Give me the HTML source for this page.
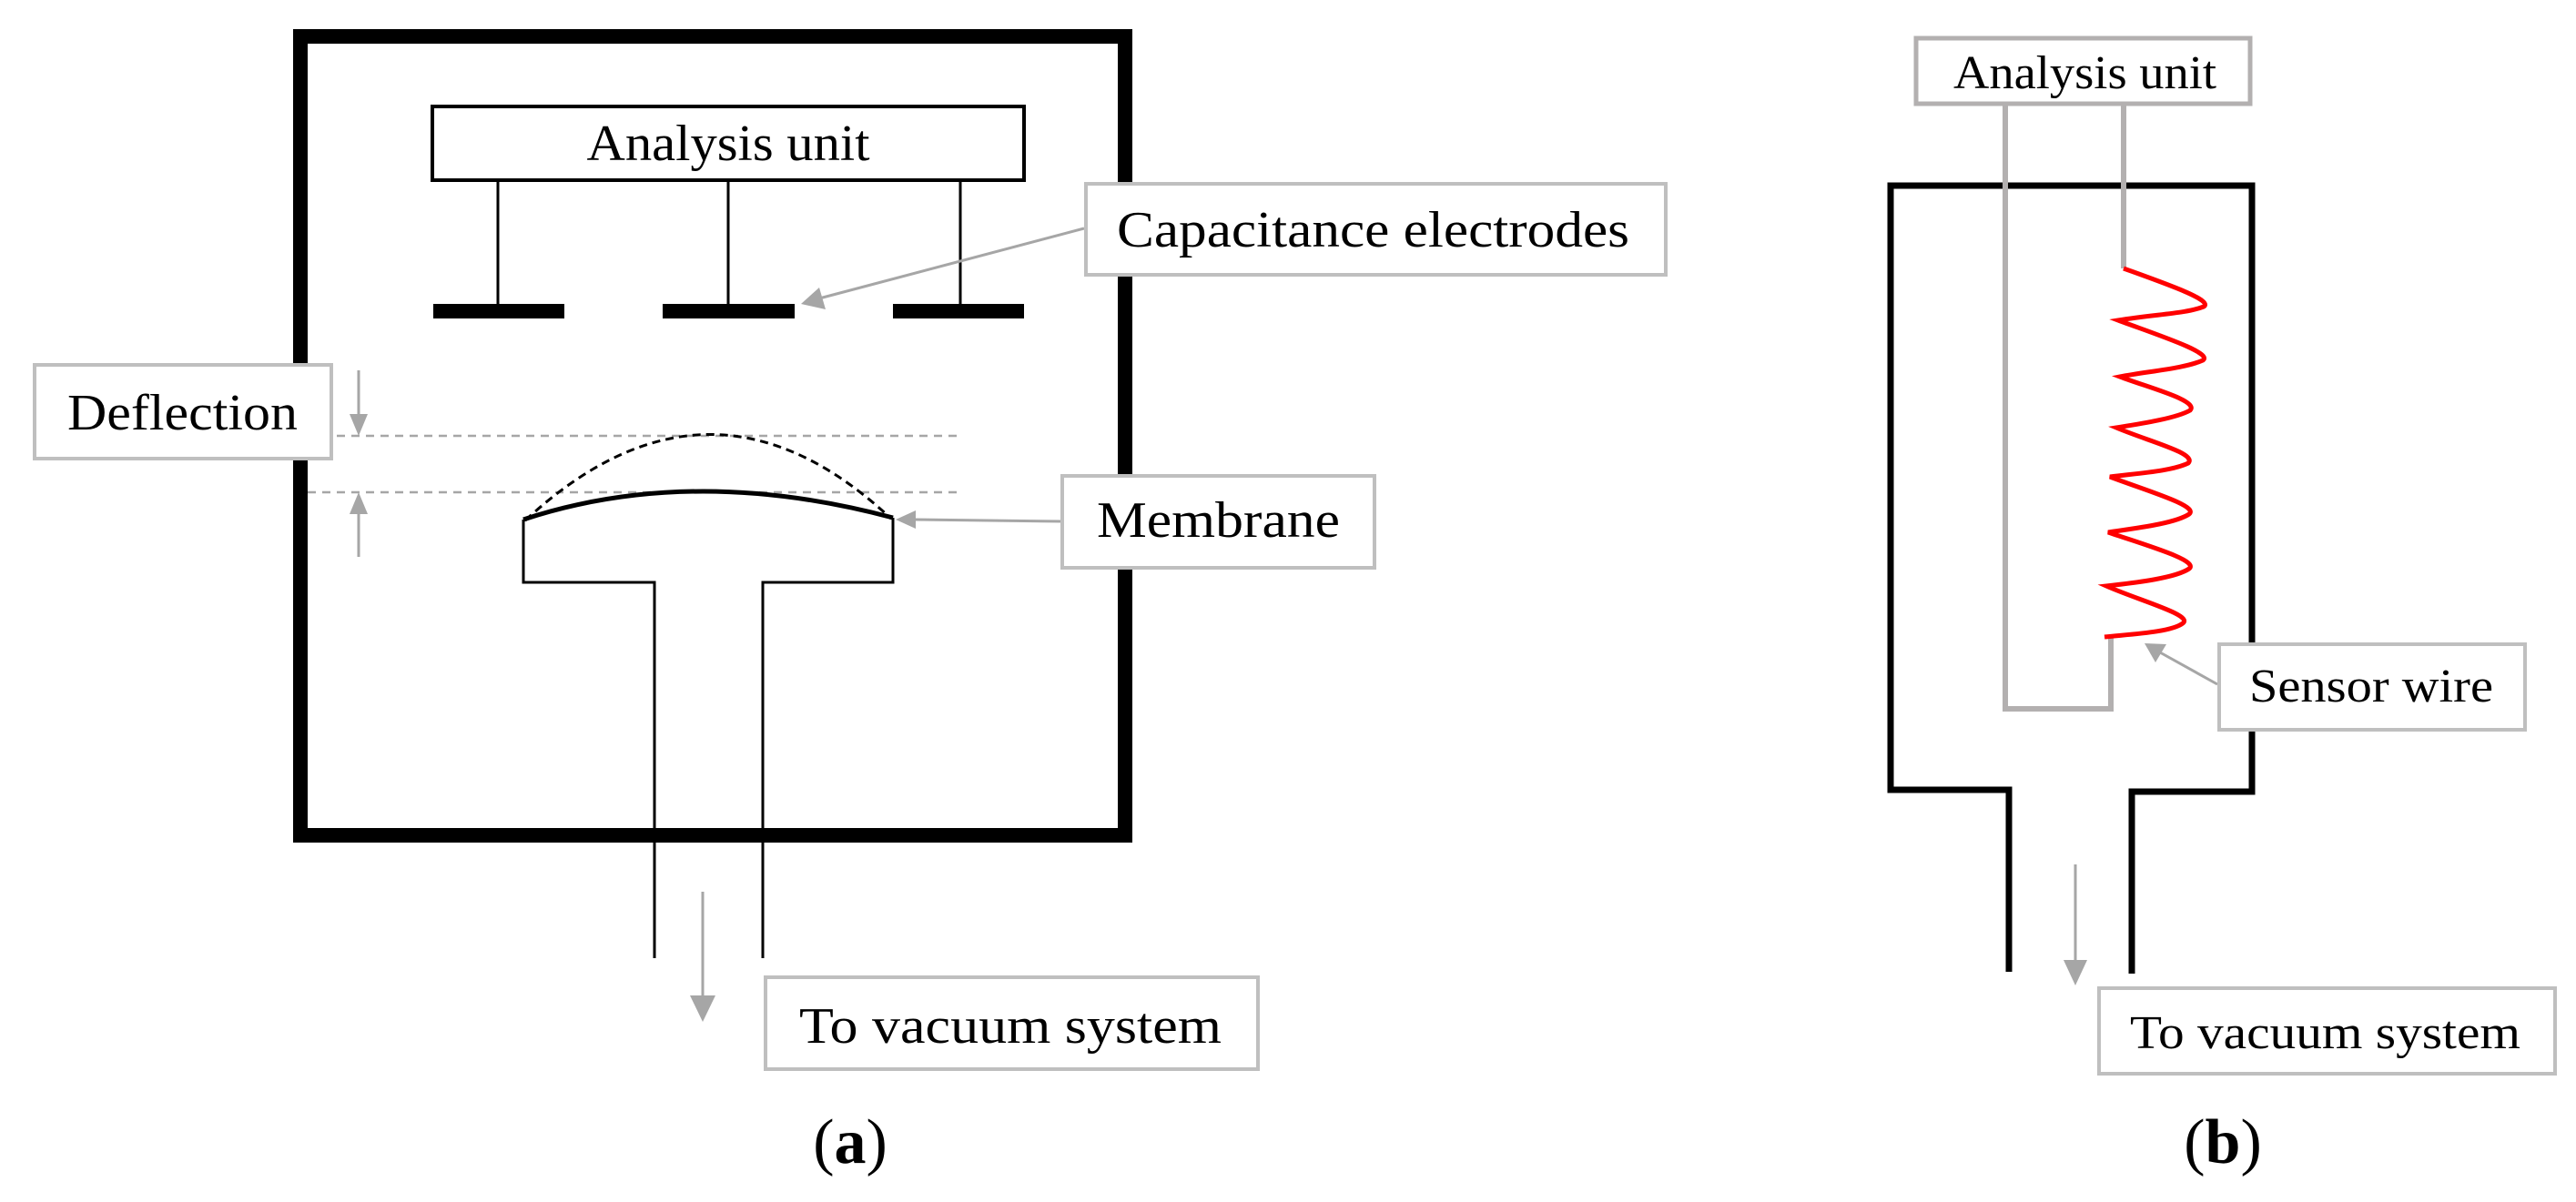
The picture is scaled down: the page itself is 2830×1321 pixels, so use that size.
<!DOCTYPE html>
<html><head><meta charset="utf-8"><style>html,body{margin:0;padding:0;background:#fff}svg{display:block}</style></head>
<body>
<svg width="2830" height="1321" viewBox="0 0 2830 1321" xmlns="http://www.w3.org/2000/svg" font-family="'Liberation Serif', serif">
<!-- Panel a -->
<rect x="330" y="40" width="906" height="878" fill="none" stroke="#000" stroke-width="16"/>
<rect x="475" y="117" width="650" height="81" fill="#fff" stroke="#000" stroke-width="4"/>
<text x="800" y="176" font-size="56" text-anchor="middle" textLength="311" lengthAdjust="spacingAndGlyphs">Analysis unit</text>
<g stroke="#000" stroke-width="3">
<line x1="547" y1="198" x2="547" y2="336"/>
<line x1="800" y1="198" x2="800" y2="336"/>
<line x1="1055" y1="198" x2="1055" y2="336"/>
</g>
<g fill="#000">
<rect x="476" y="334" width="144" height="16"/>
<rect x="728" y="334" width="145" height="16"/>
<rect x="981" y="334" width="144" height="16"/>
</g>
<line x1="1191" y1="251" x2="900" y2="328" stroke="#a6a6a6" stroke-width="3"/>
<polygon points="880,334 900,316 907,340" fill="#a6a6a6"/>
<rect x="1193" y="202" width="637" height="100" fill="#fff" stroke="#bfbfbf" stroke-width="4"/>
<text x="1227" y="271" font-size="56" textLength="563" lengthAdjust="spacingAndGlyphs">Capacitance electrodes</text>
<rect x="38" y="401" width="326" height="103" fill="#fff" stroke="#bfbfbf" stroke-width="4"/>
<text x="74" y="472" font-size="56" textLength="253" lengthAdjust="spacingAndGlyphs">Deflection</text>
<g stroke="#a6a6a6" stroke-width="2.5" stroke-dasharray="9,7">
<line x1="370" y1="479" x2="1056" y2="479"/>
<line x1="338" y1="541" x2="1056" y2="541"/>
</g>
<line x1="394" y1="407" x2="394" y2="462" stroke="#a6a6a6" stroke-width="3"/>
<polygon points="384,455 404,455 394,479" fill="#a6a6a6"/>
<line x1="394" y1="612" x2="394" y2="560" stroke="#a6a6a6" stroke-width="3"/>
<polygon points="384,565 404,565 394,541" fill="#a6a6a6"/>
<path d="M577,572 Q780,384 979,570" fill="none" stroke="#000" stroke-width="3" stroke-dasharray="9,6"/>
<path d="M575,571 Q760,510 981,569" fill="none" stroke="#000" stroke-width="5"/>
<path d="M575,571 L575,640 L719,640 L719,1053 M838,1053 L838,640 L981,640 L981,569" fill="none" stroke="#000" stroke-width="3"/>
<line x1="1167" y1="573" x2="1005" y2="571" stroke="#a6a6a6" stroke-width="3"/>
<polygon points="984,571 1006,561 1006,581" fill="#a6a6a6"/>
<rect x="1167" y="523" width="343" height="101" fill="#fff" stroke="#bfbfbf" stroke-width="4"/>
<text x="1205" y="590" font-size="56" textLength="267" lengthAdjust="spacingAndGlyphs">Membrane</text>
<line x1="772" y1="980" x2="772" y2="1100" stroke="#a6a6a6" stroke-width="3"/>
<polygon points="758,1094 786,1094 772,1123" fill="#a6a6a6"/>
<rect x="841" y="1074" width="541" height="101" fill="#fff" stroke="#bfbfbf" stroke-width="4"/>
<text x="878" y="1146" font-size="56" textLength="464" lengthAdjust="spacingAndGlyphs">To vacuum system</text>
<text x="934" y="1278" font-size="70" text-anchor="middle">(<tspan font-weight="bold">a</tspan>)</text>

<!-- Panel b -->
<path d="M2207,1068 L2207,868 L2077,868 L2077,204 L2474,204 L2474,870 L2342,870 L2342,1070" fill="none" stroke="#000" stroke-width="7"/>
<rect x="2105" y="42" width="367" height="72" fill="#fff" stroke="#b3b0b0" stroke-width="5"/>
<text x="2146" y="97" font-size="52" textLength="289" lengthAdjust="spacingAndGlyphs">Analysis unit</text>
<path d="M2203,115 L2203,779 L2319,779 L2319,699 M2333,115 L2333,295" fill="none" stroke="#b3b0b0" stroke-width="6"/>
<path d="M2333,295 C2380,312 2432,330 2421,337 C2400,345 2370,345 2327,352 C2370,368 2432,388 2420,396 C2400,405 2360,408 2329,414 C2360,426 2416,440 2406,451 C2390,460 2350,466 2325,470 C2360,485 2414,498 2404,509 C2385,518 2350,520 2318,524 C2360,540 2416,556 2405,565 C2390,575 2350,580 2316,585 C2360,600 2416,616 2405,625 C2390,635 2350,640 2314,644 C2350,660 2410,676 2398,685 C2385,695 2340,697 2312,700" fill="none" stroke="#ff0000" stroke-width="5"/>
<line x1="2436" y1="752" x2="2373" y2="717" stroke="#a6a6a6" stroke-width="3"/>
<polygon points="2356,707 2380,708 2368,728" fill="#a6a6a6"/>
<rect x="2438" y="708" width="336" height="94" fill="#fff" stroke="#bfbfbf" stroke-width="4"/>
<text x="2471" y="771" font-size="52" textLength="268" lengthAdjust="spacingAndGlyphs">Sensor wire</text>
<line x1="2280" y1="950" x2="2280" y2="1060" stroke="#a6a6a6" stroke-width="3"/>
<polygon points="2267,1055 2293,1055 2280,1083" fill="#a6a6a6"/>
<rect x="2306" y="1086" width="501" height="94" fill="#fff" stroke="#bfbfbf" stroke-width="4"/>
<text x="2340" y="1152" font-size="52" textLength="429" lengthAdjust="spacingAndGlyphs">To vacuum system</text>
<text x="2442" y="1278" font-size="70" text-anchor="middle">(<tspan font-weight="bold">b</tspan>)</text>
</svg>
</body></html>
